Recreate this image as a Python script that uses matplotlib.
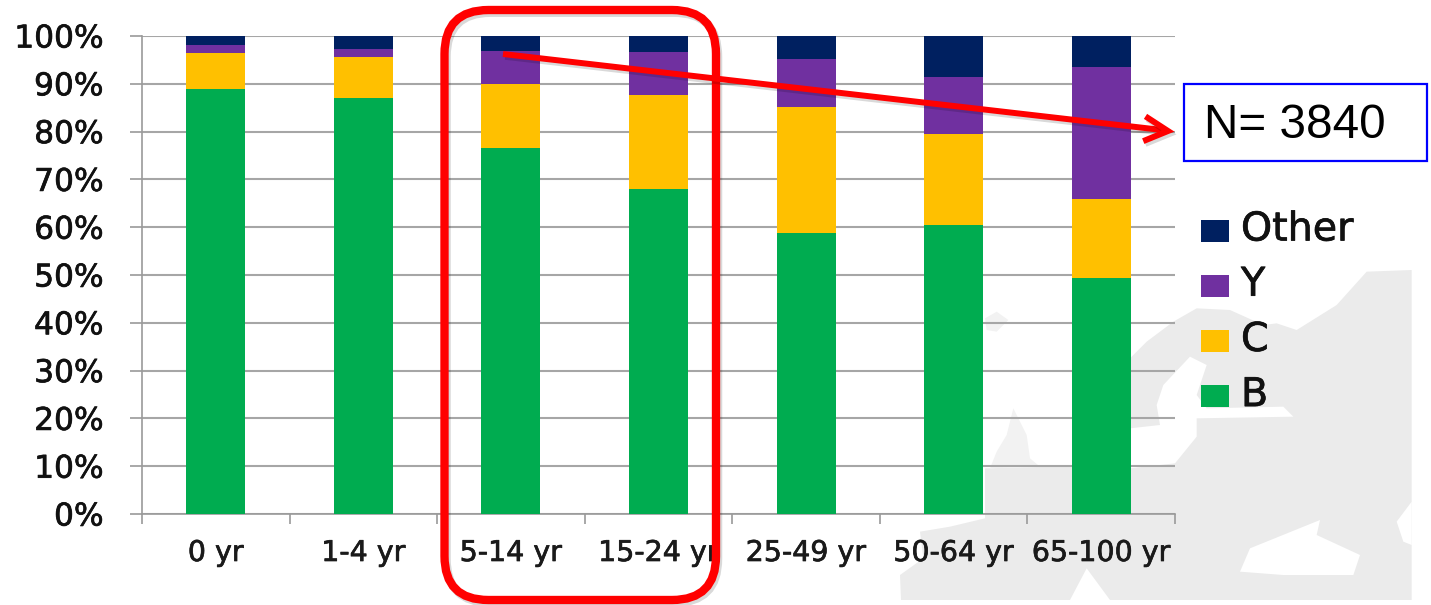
import matplotlib
matplotlib.use("Agg")
import matplotlib.pyplot as plt
import matplotlib.patheffects as pe
from matplotlib.patches import FancyBboxPatch, Polygon, Rectangle

age_groups = ["0 yr", "1-4 yr", "5-14 yr", "15-24 yr", "25-49 yr", "50-64 yr", "65-100 yr"]
share_b = [88.9, 87.0, 76.6, 67.9, 58.7, 60.5, 49.3]
share_c = [7.5, 8.7, 13.3, 19.8, 26.5, 19.1, 16.5]
share_y = [1.8, 1.5, 7.0, 8.95, 10.0, 11.8, 27.8]
share_other = [1.8, 2.8, 3.1, 3.35, 4.8, 8.6, 6.4]
percent_ticks = list(range(0, 101, 10))
legend_order = ["Other", "Y", "C", "B"]

GREEN, AMBER, PURPLE, NAVY = "#00ac50", "#ffc000", "#7030a0", "#002060"
MAP_GREY = "#ebebeb"
MAP_FAINT = "#f2f2f2"
W, H = 1431, 605

fig = plt.figure(figsize=(W / 100, H / 100), dpi=100, facecolor="white")

# Full-figure overlay working in pixels, y running downwards
bg = fig.add_axes([0, 0, 1, 1], zorder=0)
bg.set_xlim(0, W)
bg.set_ylim(H, 0)
bg.axis("off")


def map_pts(pts):
    """Map outlines are sketched on a 3x grid anchored at (930, 255)."""
    return [(930 + x / 3, 255 + y / 3) for x, y in pts]


# Faded outline of Europe behind the chart: land first, then the seas cut out in white
land = [
    [(1445, 45), (1445, 1035), (-87, 1035), (-90, 960), (-20, 910), (-30, 830), (60, 815), (165, 790),
     (165, 640), (600, 630), (600, 310), (650, 260), (730, 200), (800, 160), (900, 165), (1000, 210),
     (1040, 205), (1100, 225), (1220, 150), (1310, 50)],
]
islands = [
    [(250, 460), (290, 540), (300, 610), (330, 635), (180, 640), (200, 590), (230, 540)],
    [(165, 190), (200, 170), (235, 195), (200, 230), (170, 225)],
]
seas = [
    [(600, 640), (735, 625), (800, 545), (800, 490), (1090, 485), (1060, 455), (830, 460), (800, 420),
     (830, 330), (780, 305), (700, 390), (680, 450), (690, 510), (600, 520)],
    [(960, 880), (1170, 795), (1160, 840), (1290, 900), (1270, 960), (1060, 960), (930, 950)],
    [(1445, 740), (1400, 800), (1420, 860), (1445, 870)],
    [(420, 1035), (470, 940), (540, 1035)],
]
for pts in land:
    bg.add_patch(Polygon(map_pts(pts), closed=True, fc=MAP_GREY, ec="none"))
for pts in islands:
    bg.add_patch(Polygon(map_pts(pts), closed=True, fc=MAP_FAINT, ec="none"))
for pts in seas:
    bg.add_patch(Polygon(map_pts(pts), closed=True, fc="white", ec="none"))

left, right, top, bottom = 142, 1175, 36, 514
ax = fig.add_axes([left / W, 1 - bottom / H, (right - left) / W, (bottom - top) / H], zorder=1)
ax.patch.set_alpha(0)

positions = list(range(len(age_groups)))
stack_base = [0.0] * len(age_groups)
for values, colour in zip([share_b, share_c, share_y, share_other], [GREEN, AMBER, PURPLE, NAVY]):
    ax.bar(positions, values, bottom=stack_base, width=0.4, color=colour, zorder=3)
    stack_base = [b + v for b, v in zip(stack_base, values)]

ax.set_xlim(-0.5, len(age_groups) - 0.5)
ax.set_ylim(0, 100)
ax.set_yticks(percent_ticks)
ax.set_yticklabels([f"{t}%" for t in percent_ticks])
ax.set_xticks([p - 0.5 for p in positions] + [len(age_groups) - 0.5])
ax.set_xticklabels([])
ax.set_xticks(positions, minor=True)
ax.set_xticklabels(age_groups, minor=True)
ax.tick_params(axis="x", which="major", direction="out", length=7, width=1.2, color="#9a9a9a")
ax.tick_params(axis="x", which="minor", length=0, pad=18, labelsize=20.5, labelcolor="#1a1a1a")
ax.tick_params(axis="y", direction="out", length=8.6, width=1.2, color="#9a9a9a",
               labelsize=22.5, labelcolor="#111111", pad=19)
# Slightly heavier strokes on the axis labels
for label in ax.get_xticklabels(minor=True) + ax.get_yticklabels():
    label.set_path_effects([pe.withStroke(linewidth=0.5, foreground=label.get_color())])
ax.grid(axis="y", color="#a6a6a6", linewidth=1.5, zorder=1)
for side in ("top", "right"):
    ax.spines[side].set_visible(False)
for side in ("left", "bottom"):
    ax.spines[side].set_color("#9a9a9a")
    ax.spines[side].set_linewidth(1.2)

# Callout layer on top of the plot
fg = fig.add_axes([0, 0, 1, 1], zorder=2)
fg.set_xlim(0, W)
fg.set_ylim(H, 0)
fg.axis("off")

shadow = [pe.SimpleLineShadow(offset=(1.5, -2), shadow_color="#000000", alpha=0.15), pe.Normal()]

frame = FancyBboxPatch((444.5, 10), 271.5, 590, boxstyle="round,pad=0,rounding_size=44",
                       fc="none", ec="#ff0000", lw=6)
frame.set_path_effects(shadow)
fg.add_patch(frame)

fg.plot([503, 1162], [54, 130], color="#ff0000", lw=4.3, solid_capstyle="butt", path_effects=shadow)
fg.plot([1148, 1168, 1146], [118, 131, 140], color="#ff0000", lw=4.3, solid_joinstyle="miter",
        path_effects=shadow)

fg.add_patch(Rectangle((1184, 84), 242.5, 77, fc="white", ec="#0000ff", lw=1.6))
fg.text(1204, 126, "N= 3840", fontsize=34.3, family="Liberation Sans", color="black",
        va="center", ha="left")

# Hand-placed legend, stacked as in the bars
legend_colours = {"Other": NAVY, "Y": PURPLE, "C": AMBER, "B": GREEN}
for i, name in enumerate(legend_order):
    yc = 230.5 + i * 55.2
    fg.add_patch(Rectangle((1200.5, yc - 11), 28, 22, fc=legend_colours[name], ec="none"))
    t = fg.text(1241, yc - 1, name, fontsize=28.5, color="#111111", va="center", ha="left")
    t.set_path_effects([pe.withStroke(linewidth=0.5, foreground="#111111")])

fig.savefig("out.png", dpi=100, facecolor="white")
